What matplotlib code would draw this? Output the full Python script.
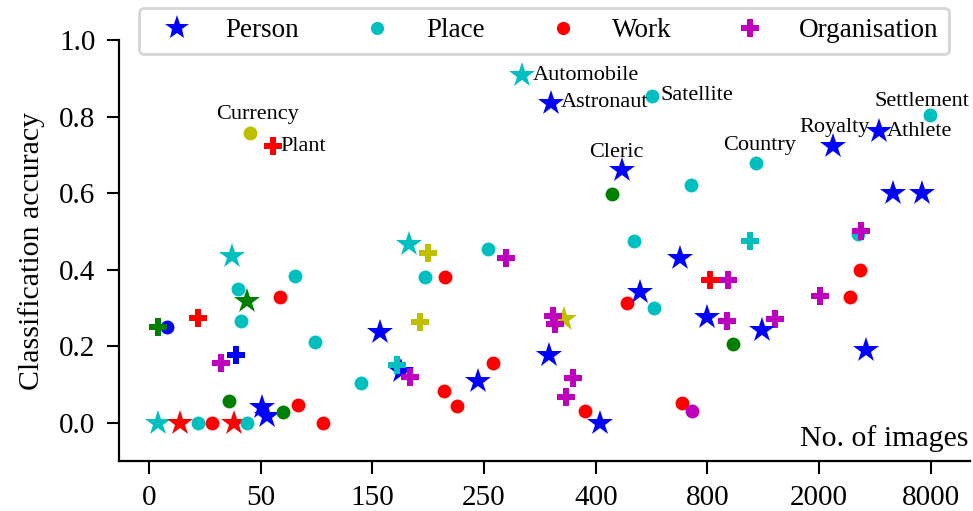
import numpy as np
import matplotlib
matplotlib.use("Agg")
import matplotlib.pyplot as plt
from matplotlib.lines import Line2D
from matplotlib.ticker import NullLocator

# ---------------- data ----------------
tick_values = [0, 50, 150, 250, 400, 800, 2000, 8000]

# number of images per class
n_images = [8, 4, 4, 14, 22, 28, 38, 44, 36, 51, 56, 70, 83, 106,
            32, 39, 22, 41, 44, 40, 37, 81, 67, 99, 140,
            183, 200, 256, 279, 197, 215, 193, 157, 176, 172, 184, 262, 245, 214, 226,
            357, 343, 346, 337, 369, 360, 385, 414,
            537, 513, 560, 610, 702, 1262, 4076, 4256, 832, 1026, 4214, 2066, 3662,
            800, 1008, 1524, 1384, 1078, 4508, 709, 745,
            45, 61, 301, 340, 601, 493, 460, 740, 1326, 2768, 5240, 7964, 5960, 7550]
# classification accuracy per class
accuracy = [0.25, 0.25, 0.0, 0.0, 0.0, 0.0, 0.0, 0.0, 0.056, 0.04, 0.018, 0.027, 0.047, 0.0,
            0.155, 0.178, 0.273, 0.267, 0.319, 0.35, 0.435, 0.383, 0.328, 0.212, 0.105,
            0.466, 0.444, 0.453, 0.43, 0.38, 0.38, 0.263, 0.236, 0.136, 0.152, 0.119, 0.155, 0.11, 0.084, 0.043,
            0.271, 0.28, 0.257, 0.178, 0.116, 0.066, 0.03, 0.0,
            0.474, 0.313, 0.341, 0.3, 0.431, 0.475, 0.494, 0.5, 0.374, 0.372, 0.399, 0.332, 0.329,
            0.276, 0.265, 0.27, 0.241, 0.206, 0.19, 0.051, 0.031,
            0.757, 0.723, 0.908, 0.836, 0.854, 0.661, 0.598, 0.622, 0.678, 0.723, 0.762, 0.805, 0.6, 0.599]
colour_code = (["b", "g", "c", "r", "c", "r", "r", "c", "g", "b", "b", "g", "r", "r"]
               + ["m", "b", "r", "c", "g", "c", "c", "c", "r", "c", "c"]
               + ["c", "y", "c", "m", "c", "r", "y", "b", "b", "c", "m", "r", "b", "r", "r"]
               + ["y", "m", "m", "b", "m", "m", "r", "b"]
               + ["c", "r", "b", "c", "b", "c", "c", "m", "r", "m", "r", "m", "r"]
               + ["b", "m", "m", "b", "g", "b", "r", "m"]
               + ["y", "r", "c", "b", "c", "b", "g", "c", "c", "b", "b", "c", "b", "b"])
shape_code = (["o", "P", "*", "*", "o", "o", "*", "o", "o", "*", "*", "o", "o", "o"]
              + ["P", "P", "P", "o", "*", "o", "*", "o", "o", "o", "o"]
              + ["*", "P", "o", "P", "o", "o", "P", "*", "*", "P", "P", "o", "*", "o", "o"]
              + ["*", "P", "P", "*", "P", "P", "o", "*"]
              + ["o", "o", "*", "o", "*", "P", "o", "P", "P", "P", "o", "P", "o"]
              + ["*", "P", "P", "*", "o", "*", "o", "o"]
              + ["o", "P", "*", "*", "o", "*", "o", "o", "o", "*", "*", "o", "*", "*"])
# labels for the last entries of the lists above
labels = ["Currency", "Plant", "Automobile", "Astronaut", "Satellite", "Cleric", "",
          "", "Country", "Royalty", "Athlete", "Settlement", "", ""]
legend_names = ["Person", "Place", "Work", "Organisation"]
legend_colours = ["b", "c", "r", "m"]
legend_shapes = ["*", "o", "o", "P"]

# ---------------- styles ----------------
plt.rcParams["font.family"] = ["Liberation Serif", "DejaVu Serif"]
colour_map = {"b": "#0000ff", "c": "#00bfbf", "r": "#ff0000", "m": "#bf00bf",
              "g": "#008000", "y": "#bfbf00"}
marker_size = {"*": 19, "o": 10, "P": 13.5}
label_style = {
    "Currency": (6, 13, "center"), "Plant": (5.5, 0, "left"),
    "Automobile": (7.5, 0, "left"), "Astronaut": (7, 0, "left"),
    "Satellite": (6, 0, "left"), "Cleric": (-4, 12.5, "center"),
    "Country": (2, 12.5, "center"), "Royalty": (1, 13.5, "center"),
    "Athlete": (5.5, 0, "left"), "Settlement": (-6, 9.5, "center"),
}

pos_idx = np.arange(len(tick_values), dtype=float)
tv = np.array(tick_values, dtype=float)


def fwd(v):
    v = np.asarray(v, dtype=float)
    p = np.interp(v, tv, pos_idx)
    p = np.where(v < tv[0], (v - tv[0]) / (tv[1] - tv[0]), p)
    p = np.where(v > tv[-1], pos_idx[-1] + (v - tv[-1]) / (tv[-1] - tv[-2]), p)
    return p


def inv(p):
    p = np.asarray(p, dtype=float)
    v = np.interp(p, pos_idx, tv)
    v = np.where(p < 0, tv[0] + p * (tv[1] - tv[0]), v)
    v = np.where(p > pos_idx[-1], tv[-1] + (p - pos_idx[-1]) * (tv[-1] - tv[-2]), v)
    return v


fig = plt.figure(figsize=(9.73, 5.11), dpi=100)
ax = fig.add_axes([119 / 973, 1 - 461 / 511, 851 / 973, 421 / 511])
ax.set_xscale("function", functions=(fwd, inv))

for i, (x, y) in enumerate(zip(n_images, accuracy)):
    mk = shape_code[i]
    ax.plot([x], [y], linestyle="none", marker=mk, ms=marker_size[mk],
            color=colour_map[colour_code[i]], markeredgewidth=0, zorder=3)

start = len(n_images) - len(labels)
for j, lab in enumerate(labels):
    if not lab:
        continue
    dx, dy, ha = label_style[lab]
    ax.annotate(lab, xy=(n_images[start + j], accuracy[start + j]), xytext=(dx, dy),
                textcoords="offset points", ha=ha, va="center", fontsize=16, zorder=4)

ax.set_xlim(inv(-0.269), inv(7.352))
ax.set_ylim(-0.1, 1.0)
ax.set_xticks(tick_values)
ax.set_xticklabels([str(t) for t in tick_values])
ax.set_yticks([0.0, 0.2, 0.4, 0.6, 0.8, 1.0])
ax.set_yticklabels(["0.0", "0.2", "0.4", "0.6", "0.8", "1.0"])
ax.xaxis.set_minor_locator(NullLocator())
ax.tick_params(axis="both", labelsize=21, length=9, width=1.5, pad=8)
for s in ["top", "right"]:
    ax.spines[s].set_visible(False)
for s in ["left", "bottom"]:
    ax.spines[s].set_linewidth(1.6)

ax.set_ylabel("Classification accuracy", fontsize=21.5, labelpad=10)
ax.text(0.998, 0.022, "No. of images", transform=ax.transAxes, ha="right", va="bottom",
        fontsize=21.5)

handles = [Line2D([], [], linestyle="none", marker=s, ms=marker_size[s] * 0.95,
                  color=colour_map[c], markeredgewidth=0)
           for s, c in zip(legend_shapes, legend_colours)]
leg = ax.legend(handles, legend_names, loc="center", ncol=4,
                bbox_to_anchor=(0.4994, 1.0214), borderaxespad=0,
                fontsize=19.5, frameon=True, fancybox=True, handletextpad=0.8,
                columnspacing=1.9)
leg.get_frame().set_linewidth(2)
leg.get_frame().set_edgecolor("#cccccc")

fig.savefig("out.png", dpi=100)
